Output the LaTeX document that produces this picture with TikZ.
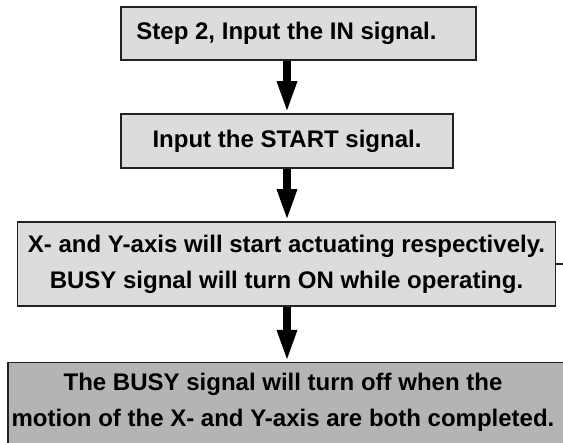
\documentclass[tikz,border=0pt]{standalone}
\usepackage{fontspec}
\setmainfont{Liberation Sans}
\usetikzlibrary{arrows.meta}
\definecolor{boxfill}{HTML}{DCDCDC}
\definecolor{boxfilldark}{HTML}{B4B4B4}
\definecolor{boxline}{HTML}{222222}
\tikzset{
  boxfont/.style={font=\fontsize{24}{36}\selectfont\bfseries},
  stepbox/.style={draw=boxline, line width=1.5pt, fill=boxfill, inner sep=0pt,
    align=center, boxfont},
  endbox/.style={stepbox, fill=boxfilldark},
  flowarrow/.style={line width=8pt, -{Triangle[width=18pt,length=32pt]}, black}
}
\begin{document}
\begin{tikzpicture}[x=1pt,y=-1pt]
\useasboundingbox (0,0) rectangle (563,443);
\clip (0,0) rectangle (563,443);
\node[stepbox, minimum width=355pt, minimum height=53pt] (b1) at (298.5,33.5) {\hbox{Step 2, Input the IN signal.\kern24pt}};
\node[stepbox, minimum width=332pt, minimum height=54pt] (b2) at (287,141) {Input the START signal.};
\node[stepbox, minimum width=538pt, minimum height=84pt] (b3) at (286.5,264) {X- and Y-axis will start actuating respectively.\\ BUSY signal will turn ON while operating.};
\node[endbox, anchor=north west, minimum width=620pt, minimum height=110pt] (b4) at (7,362) {};
\node[align=center, inner sep=0pt, boxfont] (b4t) at (283,402) {The BUSY signal will turn off when the\\ motion of the X- and Y-axis are both completed.};
\coordinate (tick) at (563,264);
\draw[flowarrow] (b1.south -| 287,0) -- (b2.north -| 287,0);
\draw[flowarrow] (b2.south -| 287,0) -- (b3.north -| 287,0);
\draw[flowarrow] (b3.south -| 287,0) -- (b4.north -| 287,0);
\draw[boxline, line width=1.2pt] (b3.east) -- (tick);
\end{tikzpicture}
\end{document}
